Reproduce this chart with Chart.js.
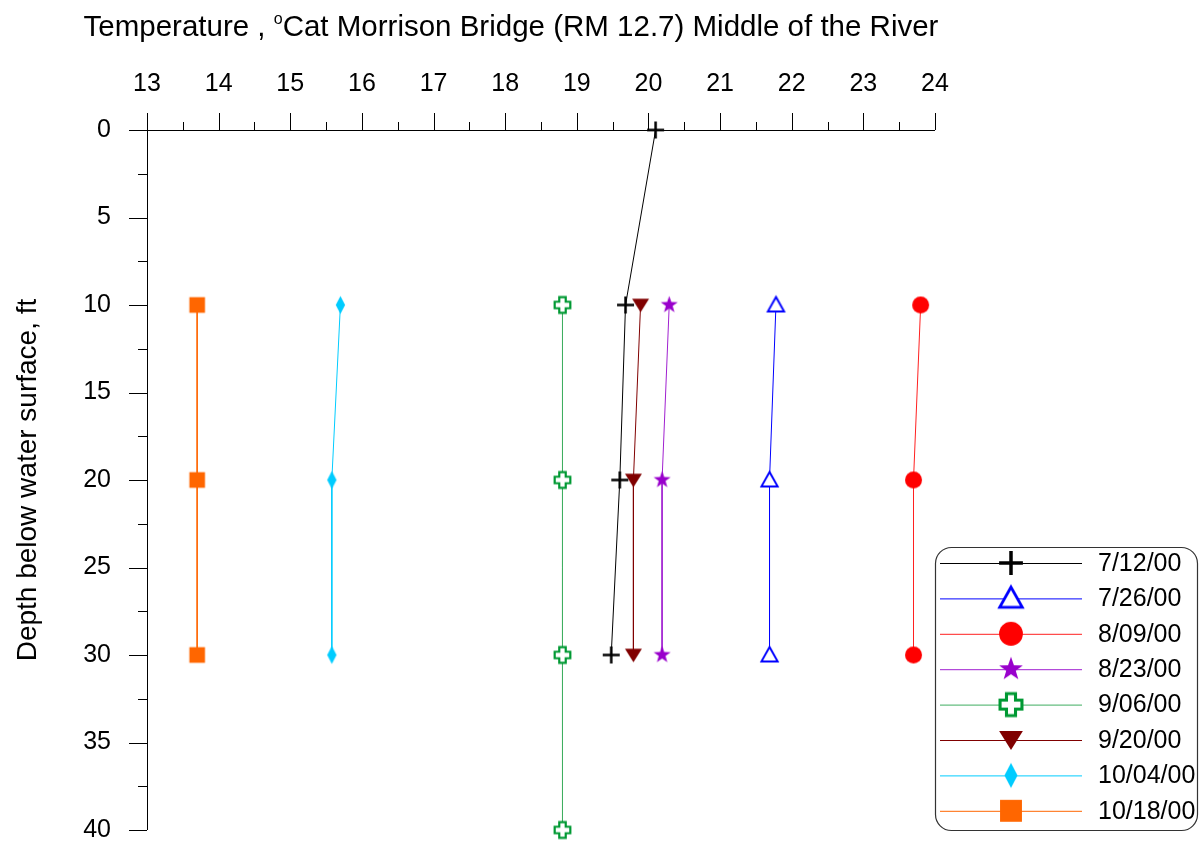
<!DOCTYPE html>
<html lang="en">
<head>
    <meta charset="UTF-8">
    <title>Temperature at Morrison Bridge</title>
    <script src="https://cdn.jsdelivr.net/npm/chart.js"></script>
    <style>
        body {
            margin: 0;
            background: #fff;
        }

        #wrap {
            width: 1203px;
            height: 846px;
        }
    </style>
</head>
<body>

<div id="wrap"><canvas id="grafica"></canvas></div>

<script>
        // Datos
        const dates = ['7/12/00', '7/26/00', '8/09/00', '8/23/00', '9/06/00', '9/20/00', '10/04/00', '10/18/00'];

        const depths0712 = [0, 10, 20, 30];
        const depths = [10, 20, 30];
        const depths0906 = [10, 20, 30, 40];

        const t0712 = [20.1, 19.68, 19.6, 19.48];
        const t0726 = [21.78, 21.69, 21.69];
        const t0809 = [23.8, 23.7, 23.7];
        const t0823 = [20.29, 20.19, 20.19];
        const t0906 = [18.8, 18.8, 18.8, 18.8];
        const t0920 = [19.89, 19.79, 19.79];
        const t1004 = [15.7, 15.58, 15.58];
        const t1018 = [13.7, 13.7, 13.7];

        const xMin = 13, xMax = 24;
        const yMin = 0, yMax = 40;

        const FONT = '"Liberation Sans", Arial, sans-serif';

        // Marcadores dibujados en un canvas pequeño
        function marker(kind, color, k) {
            const s = 17 * k;
            const c = document.createElement('canvas');
            c.width = c.height = Math.ceil(s + 8);
            const g = c.getContext('2d');
            g.translate(c.width / 2, c.height / 2);
            const r = s / 2;
            g.fillStyle = color;
            g.strokeStyle = color;
            if (kind === 'cross') {
                g.lineWidth = 2.5 * k;
                g.beginPath();
                g.moveTo(-r, 0); g.lineTo(r, 0);
                g.moveTo(0, -r); g.lineTo(0, r);
                g.stroke();
            } else if (kind === 'triangle') {
                g.lineWidth = 2 * k;
                g.fillStyle = '#fff';
                g.beginPath();
                g.moveTo(0, -r * 0.95);
                g.lineTo(r * 0.95, r * 0.75);
                g.lineTo(-r * 0.95, r * 0.75);
                g.closePath();
                g.fill();
                g.stroke();
            } else if (kind === 'down') {
                g.beginPath();
                g.moveTo(-r, -r * 0.75);
                g.lineTo(r, -r * 0.75);
                g.lineTo(0, r * 0.85);
                g.closePath();
                g.fill();
            } else if (kind === 'circle') {
                g.beginPath();
                g.arc(0, 0, r, 0, Math.PI * 2);
                g.fill();
            } else if (kind === 'star') {
                g.beginPath();
                for (let i = 0; i < 10; i++) {
                    const a = -Math.PI / 2 + i * Math.PI / 5;
                    const rr = i % 2 === 0 ? r * 1.05 : r * 0.42;
                    g.lineTo(Math.cos(a) * rr, Math.sin(a) * rr);
                }
                g.closePath();
                g.fill();
            } else if (kind === 'plus') {
                const a = r * 0.38;
                const h = r * 0.92;
                g.lineWidth = 2.2 * k;
                g.fillStyle = '#fff';
                g.beginPath();
                g.moveTo(-a, -h); g.lineTo(a, -h); g.lineTo(a, -a); g.lineTo(h, -a);
                g.lineTo(h, a); g.lineTo(a, a); g.lineTo(a, h); g.lineTo(-a, h);
                g.lineTo(-a, a); g.lineTo(-h, a); g.lineTo(-h, -a); g.lineTo(-a, -a);
                g.closePath();
                g.fill();
                g.stroke();
            } else if (kind === 'diamond') {
                g.beginPath();
                g.moveTo(0, -r * 1.05);
                g.lineTo(r * 0.55, 0);
                g.lineTo(0, r * 1.05);
                g.lineTo(-r * 0.55, 0);
                g.closePath();
                g.fill();
            } else if (kind === 'square') {
                g.fillRect(-r * 0.92, -r * 0.92, r * 1.84, r * 1.84);
            }
            return c;
        }

        const series = [
            { label: dates[0], xs: t0712, ys: depths0712, line: '#000000', mark: '#000000', kind: 'cross' },
            { label: dates[1], xs: t0726, ys: depths, line: '#0000ff', mark: '#0000ff', kind: 'triangle' },
            { label: dates[2], xs: t0809, ys: depths, line: '#ff2020', mark: '#ff0000', kind: 'circle' },
            { label: dates[3], xs: t0823, ys: depths, line: '#a020d0', mark: '#9900cc', kind: 'star' },
            { label: dates[4], xs: t0906, ys: depths0906, line: '#3fae60', mark: '#009933', kind: 'plus' },
            { label: dates[5], xs: t0920, ys: depths, line: '#800000', mark: '#800000', kind: 'down' },
            { label: dates[6], xs: t1004, ys: depths, line: '#00ccff', mark: '#00ccff', kind: 'diamond' },
            { label: dates[7], xs: t1018, ys: depths, line: '#ff6600', mark: '#ff6600', kind: 'square' }
        ];

        series.forEach(s => {
            s.icon = marker(s.kind, s.mark, 1);
            s.legendIcon = marker(s.kind, s.mark, 1.4);
        });

        // Ejes, marcas mayores y menores
        const axesPlugin = {
            id: 'axesPlugin',
            beforeDatasetsDraw(chart) {
                const ctx = chart.ctx;
                const x = chart.scales.x, y = chart.scales.y;
                const area = chart.chartArea;
                ctx.save();
                ctx.strokeStyle = '#000';
                ctx.lineWidth = 1;
                ctx.beginPath();
                ctx.moveTo(area.left, area.top + 0.5);
                ctx.lineTo(area.right, area.top + 0.5);
                ctx.moveTo(area.left + 0.5, area.top);
                ctx.lineTo(area.left + 0.5, area.bottom);
                for (let v = xMin; v <= xMax; v += 0.5) {
                    const px = Math.round(x.getPixelForValue(v)) + 0.5;
                    const len = Number.isInteger(v) ? 17 : 8;
                    ctx.moveTo(px, area.top);
                    ctx.lineTo(px, area.top - len);
                }
                for (let v = yMin; v <= yMax; v += 2.5) {
                    const py = Math.round(y.getPixelForValue(v)) + 0.5;
                    const len = v % 5 === 0 ? 18 : 9;
                    ctx.moveTo(area.left, py);
                    ctx.lineTo(area.left - len, py);
                }
                ctx.stroke();
                ctx.restore();
            },
            afterDraw(chart) {
                const ctx = chart.ctx;
                const area = chart.chartArea;
                ctx.save();
                // Titulo con superindice
                const p1 = 'Temperature , ';
                const p2 = 'o';
                const p3 = 'Cat Morrison Bridge (RM 12.7) Middle of the River';
                const big = '29.5px ' + FONT;
                const small = '16px ' + FONT;
                ctx.font = big;
                const w1 = ctx.measureText(p1).width;
                const w3 = ctx.measureText(p3).width;
                ctx.font = small;
                const w2 = ctx.measureText(p2).width;
                const total = w1 + w2 + w3;
                let tx = 511 - total / 2;
                const ty = 36;
                ctx.fillStyle = '#000';
                ctx.textBaseline = 'alphabetic';
                ctx.textAlign = 'left';
                ctx.font = big;
                ctx.fillText(p1, tx, ty);
                tx += w1;
                ctx.font = small;
                ctx.fillText(p2, tx, ty - 12);
                tx += w2;
                ctx.font = big;
                ctx.fillText(p3, tx, ty);

                // Leyenda
                const bx = area.right, by = 547, bw = 262, bh = 283;
                ctx.strokeStyle = '#333';
                ctx.lineWidth = 1.2;
                ctx.beginPath();
                ctx.roundRect(bx + 0.5, by + 0.5, bw, bh, 16);
                ctx.stroke();
                ctx.font = '25px ' + FONT;
                ctx.textBaseline = 'middle';
                series.forEach((s, i) => {
                    const ry = by + 16 + i * 35.4;
                    ctx.strokeStyle = s.line;
                    ctx.lineWidth = 1;
                    ctx.beginPath();
                    ctx.moveTo(bx + 5, ry + 0.5);
                    ctx.lineTo(bx + 147, ry + 0.5);
                    ctx.stroke();
                    const ic = s.legendIcon;
                    ctx.drawImage(ic, bx + 76 - ic.width / 2, ry - ic.height / 2);
                    ctx.fillStyle = '#000';
                    ctx.fillText(s.label, bx + 163, ry + 1);
                });
                ctx.restore();
            }
        };

        const ctx = document.getElementById('grafica').getContext('2d');
        const grafica = new Chart(ctx, {
            type: 'scatter',
            data: {
                datasets: series.map(s => ({
                    label: s.label,
                    data: s.xs.map((v, i) => ({ x: v, y: s.ys[i] })),
                    showLine: true,
                    borderColor: s.line,
                    borderWidth: 1,
                    pointStyle: s.icon,
                    pointRadius: 8,
                    pointHoverRadius: 8,
                    clip: false
                }))
            },
            options: {
                animation: false,
                responsive: true,
                maintainAspectRatio: false,
                events: [],
                layout: {
                    padding: { left: 0, top: 0, right: 268, bottom: 16 }
                },
                plugins: {
                    legend: { display: false },
                    tooltip: { enabled: false }
                },
                scales: {
                    x: {
                        type: 'linear',
                        position: 'top',
                        min: xMin,
                        max: xMax,
                        grid: { display: false, drawTicks: false },
                        border: { display: false },
                        ticks: {
                            stepSize: 1,
                            padding: 31,
                            color: '#000',
                            font: { family: FONT, size: 25 }
                        },
                        afterFit: s => {
                            s.height = 130;
                            s.paddingLeft = 0;
                            s.paddingRight = 0;
                        }
                    },
                    y: {
                        type: 'linear',
                        reverse: true,
                        min: yMin,
                        max: yMax,
                        grid: { display: false, drawTicks: false },
                        border: { display: false },
                        ticks: {
                            stepSize: 5,
                            padding: 36,
                            color: '#000',
                            font: { family: FONT, size: 25 }
                        },
                        title: {
                            display: true,
                            text: 'Depth below water surface, ft',
                            color: '#000',
                            font: { family: FONT, size: 28 },
                            padding: { top: 11, bottom: 0 }
                        },
                        afterFit: s => {
                            s.width = 147;
                            s.paddingTop = 0;
                            s.paddingBottom = 0;
                        }
                    }
                }
            },
            plugins: [axesPlugin]
        });
</script>

</body>
</html>
